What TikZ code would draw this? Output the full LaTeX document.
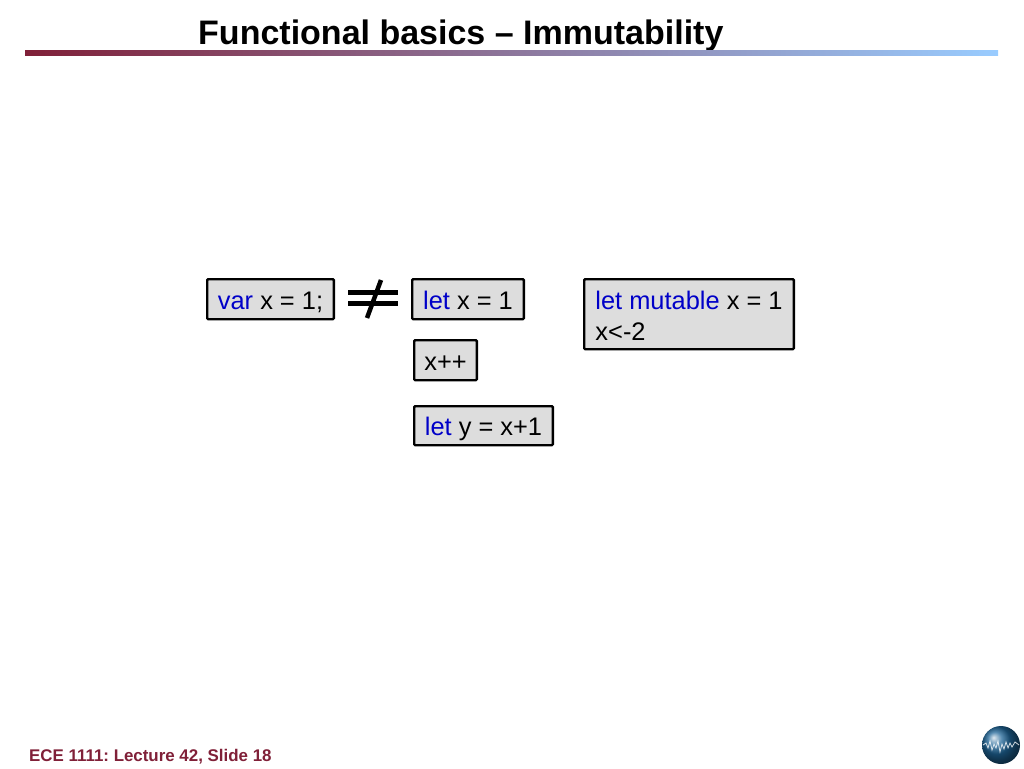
\documentclass[tikz,border=0pt]{standalone}
\usepackage{fontspec}
\setmainfont{Liberation Sans}
\frenchspacing
\definecolor{barmaroon}{RGB}{128,32,56}
\definecolor{barmiddle}{RGB}{140,150,196}
\definecolor{barblue}{RGB}{153,204,255}
\definecolor{boxgray}{RGB}{221,221,221}
\definecolor{keyblue}{RGB}{0,0,200}
\definecolor{globeblue}{RGB}{30,100,150}
\newcommand{\kw}[1]{\textcolor{keyblue}{#1}}
\begin{document}
\begin{tikzpicture}[
        x=1pt, y=-1pt,
        codebox/.style={draw=black, fill=boxgray, line width=2.4pt, rounded corners=1pt, anchor=north west, inner sep=0pt, font=\fontsize{25.4}{31}\selectfont},
        onelinebox/.style={codebox, text height=20pt, text depth=0pt},
        neqbar/.style={line width=5pt}
    ]
    \useasboundingbox (0,0) rectangle (1024,768);

    % Title and the bar under it
    \node (title) [anchor=base west, inner sep=0pt, font=\fontsize{34}{40}\selectfont\bfseries] at (198,45) {Functional basics -- Immutability};
    \shade[left color=barmaroon, middle color=barmiddle, right color=barblue] (25,51) rectangle (998,55.5);

    % Boxes with the code
    \node (varx) [onelinebox, minimum width=126.6pt, minimum height=40pt] at (206,278) {\kw{var} x = 1;};
    \node (letx) [onelinebox, minimum width=111.6pt, minimum height=40pt] at (411,278) {\kw{let} x = 1};
    \node (xpp) [onelinebox, minimum width=62.6pt, minimum height=40pt] at (413,339) {x++};
    \node (lety) [onelinebox, minimum width=138.6pt, minimum height=39pt] at (413,405) {\kw{let} y = x+1};
    \node (mutx) [codebox, align=left, minimum width=209.6pt, minimum height=70pt] at (583,278) {\rule{0pt}{21pt}\kw{let mutable} x = 1\\x<-2};

    % Not equal sign
    \draw[neqbar] (348,292) -- (398,292);
    \draw[neqbar] (348,303.5) -- (398,303.5);
    \draw[line width=4.5pt] (381,280) -- (367,318);

    % Footer
    \node (footer) [anchor=base west, inner sep=0pt, text=barmaroon, font=\fontsize{16.9}{20}\selectfont\bfseries] at (29,761) {ECE 1111: Lecture 42, Slide 18};
    \node (globe) [circle, minimum size=38pt, inner sep=0pt, shading=ball, ball color=globeblue] at (1001,745) {};
    \draw[white, opacity=.8, line width=.8pt] (983,745) -- (986,743) -- (988,748) -- (990,741) -- (992,750) -- (994,744) -- (996,748) -- (998,741) -- (1000,752) -- (1002,744) -- (1004,749) -- (1006,742) -- (1008,748) -- (1010,743) -- (1012,747) -- (1015,742) -- (1019,745);
\end{tikzpicture}
\end{document}
